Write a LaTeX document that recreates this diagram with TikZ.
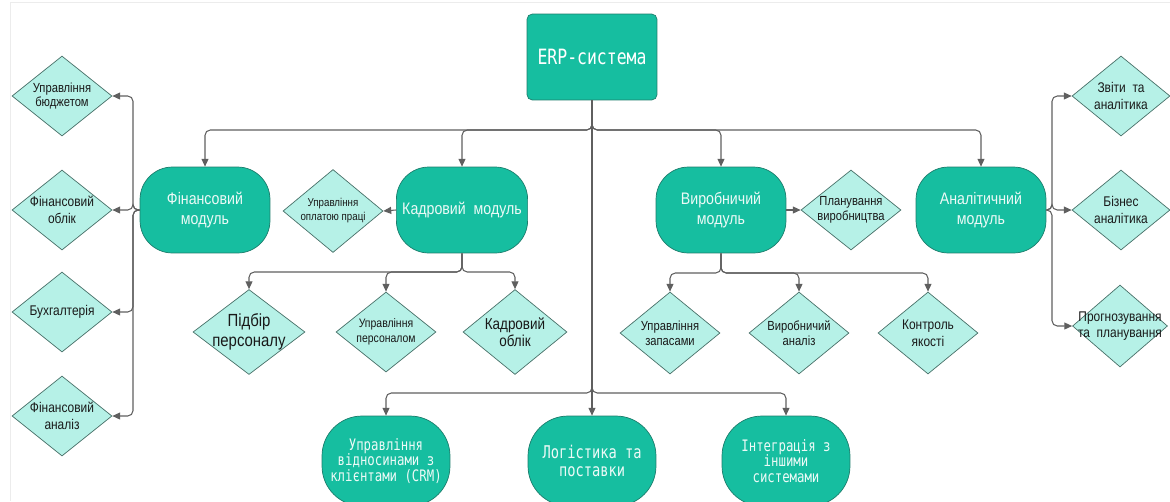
\documentclass[tikz,border=0pt]{standalone}
\usepackage{fontspec}
\setmainfont{Liberation Sans}[FakeStretch=0.85]
\newfontfamily\erpmono{DejaVu Sans Mono}[FakeStretch=0.78]
\usetikzlibrary{shapes.geometric, arrows.meta, calc}
\definecolor{erpteal}{RGB}{22,190,160}
\definecolor{erpdark}{RGB}{28,125,108}
\definecolor{erplight}{RGB}{182,241,231}
\definecolor{erpedge}{RGB}{72,112,104}
\definecolor{erpline}{RGB}{95,95,95}
\definecolor{erpframe}{RGB}{236,236,236}
\tikzset{
  system/.style={
    rectangle, rounded corners=3pt, minimum width=2.6cm, minimum height=1.72cm,
    draw=erpdark, fill=erpteal, text=white, font=\erpmono\fontsize{12}{14}\selectfont
  },
  module/.style={
    rectangle, rounded corners=0.65cm, minimum width=2.6cm, minimum height=1.72cm,
    draw=erpdark, fill=erpteal, text=white!92!erpteal, align=center,
    font=\fontsize{9.5}{11}\selectfont
  },
  extra/.style={
    module, minimum width=2.56cm, minimum height=1.8cm, rounded corners=0.8cm,
    font=\erpmono\fontsize{#1}{#1}\selectfont
  },
  task/.style={
    diamond, draw=erpedge, fill=erplight, minimum width=2cm, minimum height=1.6cm,
    inner sep=0pt
  },
  tasktext/.style 2 args={
    align=center, text=black!90, inner sep=0pt, font=\fontsize{#1}{#2}\selectfont
  },
  link/.style={-{Triangle[length=4.5pt, width=4pt]}, erpline, line width=0.6pt,
    rounded corners=3pt}
}

\begin{document}
\begin{tikzpicture}[x=0.02cm, y=-0.02cm]
  \useasboundingbox (0,0) rectangle (1170,501);
  \clip (0,0) rectangle (1170,501);
  \draw[erpframe] (10,501) -- (10,2) -- (1170,2);

  \node[system] (erp) at (592,57) {ERP-система};

  \node[module] (fin) at (205,210) {Фінансовий\\модуль};
  \node[module] (kadr) at (462,210) {Кадровий\ \ модуль};
  \node[module] (vyrob) at (721,210) {Виробничий\\модуль};
  \node[module] (anal) at (981,210) {Аналітичний\\модуль};

  \node[extra=9] (crm) at (386,461) {Управління\\відносинами з\\клієнтами (CRM)};
  \node[extra=10] (logist) at (592,461) {Логістика та\\поставки};
  \node[extra=9] (integr) at (786,461) {Інтеграція з\\іншими\\системами};

  \node[task, label={[tasktext={7.5}{8.5}]center:{Управління\\бюджетом}}] (budget) at (62,96) {};
  \node[task, label={[tasktext={8}{9.5}]center:{Фінансовий\\облік}}] (finacc) at (62,210) {};
  \node[task, label={[tasktext={8}{9.5}]center:{Бухгалтерія}}] (buh) at (62,312) {};
  \node[task, label={[tasktext={8}{9.5}]center:{Фінансовий\\аналіз}}] (finan) at (62,416) {};

  \node[task, minimum height=1.66cm, label={[tasktext={6.5}{8}]center:{Управління\\оплатою праці}}] (payroll) at (333,211) {};
  \node[task, minimum width=2.24cm, minimum height=1.7cm, label={[tasktext={10}{11}]center:{Підбір\\персоналу}}] (hire) at (249,332) {};
  \node[task, label={[tasktext={7}{8.5}]center:{Управління\\персоналом}}] (staff) at (386,332) {};
  \node[task, minimum width=2.08cm, minimum height=1.7cm, label={[tasktext={9}{10}]center:{Кадровий\\облік}}] (hrrec) at (515,332) {};

  \node[task, label={[tasktext={7.5}{8.5}]center:{Планування\\виробництва}}] (plan) at (851,210) {};
  \node[task, minimum height=1.64cm, label={[tasktext={7.5}{8.5}]center:{Управління\\запасами}}] (stock) at (670,333) {};
  \node[task, minimum height=1.64cm, label={[tasktext={7.5}{8.5}]center:{Виробничий\\аналіз}}] (prodan) at (799,333) {};
  \node[task, minimum height=1.64cm, label={[tasktext={8}{9.5}]center:{Контроль\\якості}}] (quality) at (928,333) {};

  \node[task, minimum width=1.96cm, label={[tasktext={8}{9.5}]center:{Звіти\ \ та\\аналітика}}] (reports) at (1121,96) {};
  \node[task, minimum width=1.96cm, label={[tasktext={8}{9.5}]center:{Бізнес\\аналітика}}] (bi) at (1121,210) {};
  \node[task, minimum width=1.9cm, minimum height=1.64cm, label={[tasktext={8}{9}]center:{Прогнозування\\та\ \ планування}}] (forecast) at (1120,326) {};

  \coordinate (topbus) at (592,130);
  \coordinate (botbus) at (592,393);
  \coordinate (finbus) at (133,210);
  \coordinate (kbus) at (462,272);
  \coordinate (vbus) at (721,273);
  \coordinate (abus) at (1052,210);

  \foreach \m in {fin, kadr, vyrob, anal}
    \draw[link] (erp.south) |- (\m.north |- topbus) -- (\m.north);
  \draw[link] (erp.south) |- (crm.north |- botbus) -- (crm.north);
  \draw[link] (erp.south) -- (logist.north);
  \draw[link] (erp.south) |- (integr.north |- botbus) -- (integr.north);

  \foreach \t in {budget, finacc, buh, finan}
    \draw[link] (fin.west) -- (finbus) |- (\t.east);

  \draw[link] (kadr.west) -- (payroll.east);
  \foreach \t in {hire, staff, hrrec}
    \draw[link] (kadr.south) |- (\t.north |- kbus) -- (\t.north);

  \draw[link] (vyrob.east) -- (plan.west);
  \foreach \t in {stock, prodan, quality}
    \draw[link] (vyrob.south) |- (\t.north |- vbus) -- (\t.north);

  \foreach \t in {reports, bi, forecast}
    \draw[link] (anal.east) -- (abus) |- (\t.west);
\end{tikzpicture}
\end{document}
